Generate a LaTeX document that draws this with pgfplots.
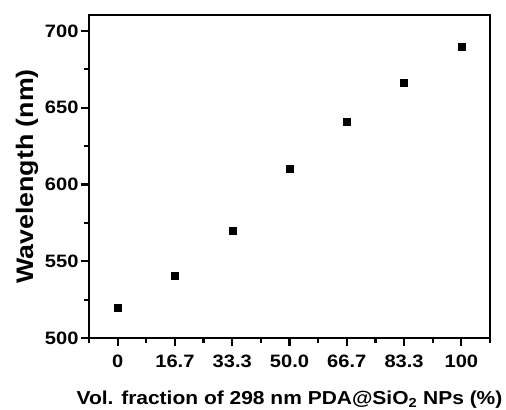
\documentclass[border=0pt]{standalone}
\usepackage{fontspec}
\setmainfont{Liberation Sans}[FakeStretch=1.12]
\usepackage{pgfplots}
\pgfplotsset{compat=1.18}
\begin{document}
\begin{tikzpicture}
\begin{axis}[
  scale only axis, width=401bp, height=323bp,
  xmin=-0.5, xmax=6.5, ymin=500, ymax=710.4,
  xtick={0,...,6}, xticklabels={0,16.7,33.3,50.0,66.7,83.3,100},
  minor xtick={-0.5,0.5,...,6.5},
  ytick={500,550,...,700}, minor ytick={525,575,...,675},
  tick pos=left, tick align=outside,
  major tick length=8bp, minor tick length=4.5bp,
  axis line style={line width=2.6bp},
  every tick/.style={black, line width=2.2bp},
  ticklabel style={font=\fontsize{18}{18}\selectfont\bfseries},
  /pgf/number format/assume math mode=true,
  yticklabel style={xshift=1bp},
  xticklabel style={yshift=-5bp},
  ylabel={\fontsize{24}{24}\selectfont\bfseries Wavelength (nm)},
  xlabel={\fontsize{18.8}{18.8}\selectfont\bfseries Vol. fraction of 298 nm PDA@SiO\textsubscript{2} NPs (\%)},
  xlabel style={at={(axis description cs:0.5,0)}, anchor=base, yshift=-66bp},
]
\addplot[only marks, mark=square*, mark size=3.5bp, black] coordinates {
(0,520) (1,540.4) (2,570) (3,610.3) (4,641) (5,666) (6,690)
};
\end{axis}
\pgfresetboundingbox
\path[use as bounding box] (-89bp,-72bp) rectangle (417bp,338bp);
\end{tikzpicture}
\end{document}
